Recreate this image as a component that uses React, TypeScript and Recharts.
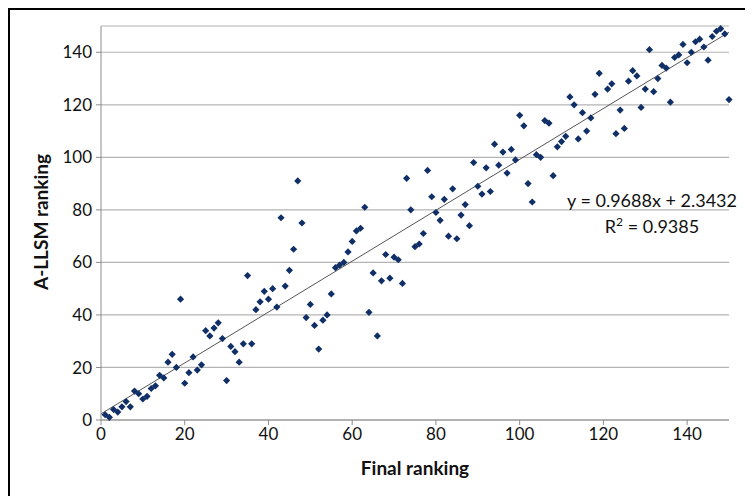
import { ScatterChart, Scatter, XAxis, YAxis, CartesianGrid, ReferenceLine, Label } from "recharts";

// final ranking (x) vs A-LLSM ranking (y)
const finalRanking = [
  1, 2, 3, 4, 5, 6, 7, 8, 9, 10, 11, 12, 13, 14, 15, 16, 17, 18, 19, 20,
  21, 22, 23, 24, 25, 26, 27, 28, 29, 30, 31, 32, 33, 34, 35, 36, 37, 38, 39, 40,
  41, 42, 43, 44, 45, 46, 47, 48, 49, 50, 51, 52, 53, 54, 55, 56, 57, 58, 59, 60,
  61, 62, 63, 64, 65, 66, 67, 68, 69, 70, 71, 72, 73, 74, 75, 76, 77, 78, 79, 80,
  81, 82, 83, 84, 85, 86, 87, 88, 89, 90, 91, 92, 93, 94, 95, 96, 97, 98, 99, 100,
  101, 102, 103, 104, 105, 106, 107, 108, 109, 110, 111, 112, 113, 114, 115, 116, 117, 118, 119,
  121, 122, 123, 124, 125, 126, 127, 128, 129, 130, 131, 132, 133, 134, 135, 136, 137, 138, 139, 140,
  141, 142, 143, 144, 145, 146, 147, 148, 149, 150,
];

const allsmRanking = [
  2, 1, 4, 3, 5, 7, 5, 11, 10, 8, 9, 12, 13, 17, 16, 22, 25, 20, 46, 14,
  18, 24, 19, 21, 34, 32, 35, 37, 31, 15, 28, 26, 22, 29, 55, 29, 42, 45, 49, 46,
  50, 43, 77, 51, 57, 65, 91, 75, 39, 44, 36, 27, 38, 40, 48, 58, 59, 60, 64, 68,
  72, 73, 81, 41, 56, 32, 53, 63, 54, 62, 61, 52, 92, 80, 66, 67, 71, 95, 85, 79,
  76, 84, 70, 88, 69, 78, 82, 74, 98, 89, 86, 96, 87, 105, 97, 102, 94, 103, 99, 116,
  112, 90, 83, 101, 100, 114, 113, 93, 104, 106, 108, 123, 120, 107, 117, 110, 115, 124, 132,
  126, 128, 109, 118, 111, 129, 133, 131, 119, 126, 141, 125, 130, 135, 134, 121, 138, 139, 143, 136,
  140, 144, 145, 142, 137, 146, 148, 149, 147, 122,
];

const xTicks = [0, 20, 40, 60, 80, 100, 120, 140];
const yTicks = [0, 20, 40, 60, 80, 100, 120, 140];

// linear trendline shown on the chart
const slope = 0.9688;
const intercept = 2.3432;
const rSquared = 0.9385;

const points = finalRanking.map((x, i) => ({ x, y: allsmRanking[i] }));

const FONT = "Lato, 'Open Sans', sans-serif";

const Diamond = (props: any) => {
  const { cx, cy } = props;
  const r = 3.6;
  return (
    <path
      d={`M${cx},${cy - r} L${cx + r},${cy} L${cx},${cy + r} L${cx - r},${cy} Z`}
      fill="#0f2f66"
    />
  );
};

const App = () => {
  return (
    <div style={{ width: 738, height: 490, border: "2px solid #000", fontFamily: FONT }}>
      <ScatterChart width={738} height={490} margin={{ top: 16, right: 19, bottom: 50, left: 31 }}>
        <CartesianGrid vertical={false} stroke="#b4b4b4" strokeWidth={1.2} />
        <XAxis
          type="number"
          dataKey="x"
          domain={[0, 150]}
          ticks={xTicks}
          stroke="#8c8c8c"
          tick={{ fill: "#111", fontSize: 17, fontFamily: FONT }}
          tickSize={5}
          tickMargin={3}
        >
          <Label
            content={() => (
              <text x={405} y={457} textAnchor="middle" dominantBaseline="central" fontFamily={FONT} fontSize={19} fontWeight="bold" fill="#111">
                Final ranking
              </text>
            )}
          />
        </XAxis>
        <YAxis
          type="number"
          dataKey="y"
          domain={[0, 150]}
          ticks={yTicks}
          stroke="#8c8c8c"
          tick={{ fill: "#111", fontSize: 17, fontFamily: FONT }}
          tickSize={5}
          tickMargin={4}
        >
          <Label
            content={() => (
              <text x={30} y={212} transform="rotate(-90 30 212)" textAnchor="middle" dominantBaseline="central" fontFamily={FONT} fontSize={19} fontWeight="bold" fill="#111">
                A-LLSM ranking
              </text>
            )}
          />
        </YAxis>
        <ReferenceLine
          segment={[
            { x: 0, y: intercept },
            { x: 150, y: slope * 150 + intercept },
          ]}
          stroke="#555"
          strokeWidth={1}
          ifOverflow="visible"
        >
          <Label
            content={() => (
              <g fontFamily={FONT} fontSize={18} fill="#111">
                <text x={642} y={197} textAnchor="middle">{`y = ${slope}x + ${intercept}`}</text>
                <text x={642} y={223} textAnchor="middle">
                  R<tspan baselineShift="super" fontSize={12}>2</tspan>{` = ${rSquared}`}
                </text>
              </g>
            )}
          />
        </ReferenceLine>
        <Scatter data={points} shape={<Diamond />} isAnimationActive={false} />
      </ScatterChart>
    </div>
  );
};

export default App;
